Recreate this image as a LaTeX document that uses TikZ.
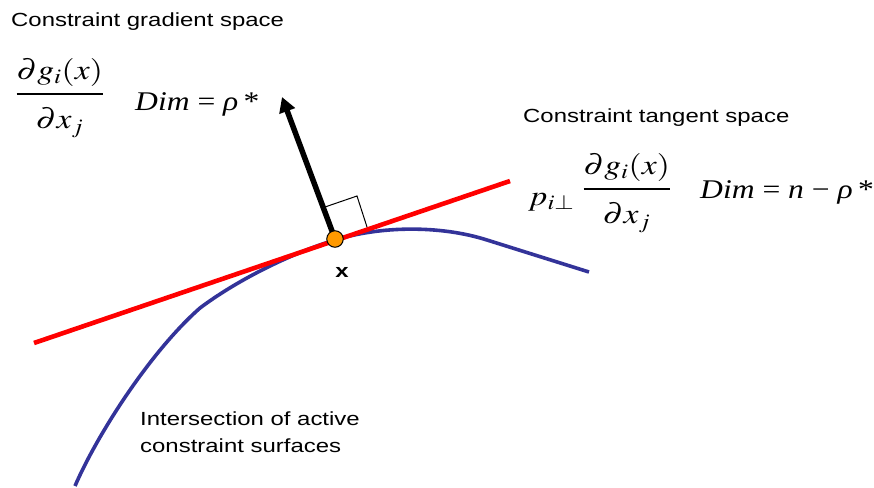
\documentclass[tikz,border=0pt]{standalone}
\usepackage{mathptmx}
\usepackage{fontspec}
\setmainfont{Liberation Sans}
\newfontfamily\tmsfont{Liberation Serif}
\usetikzlibrary{arrows.meta}
\definecolor{curveblue}{RGB}{51,51,153}
\definecolor{dotorange}{RGB}{255,153,0}
\newcommand{\hstretch}[1]{\scalebox{1.26}[1]{#1}}
\newcommand{\mstretch}[1]{\scalebox{1.2}[1]{#1}}
\newcommand{\dstretch}[1]{\scalebox{1.17}[1]{#1}}
\newcommand{\gradfrac}{$\displaystyle\frac{\partial g_i(x)\rule[-11pt]{0pt}{11pt}}{\rule{0pt}{31pt}\partial x_j}$}
\begin{document}
\begin{tikzpicture}[x=1pt,y=-1pt,
  lbl/.style={inner sep=0, anchor=base west, font=\fontsize{19}{22}\selectfont},
  mth/.style={inner sep=0, anchor=base west, font=\fontsize{28}{32}\selectfont},
  dimtxt/.style={inner sep=0, anchor=base west, font=\tmsfont\fontsize{27}{32}\selectfont}]
\useasboundingbox (0,0) rectangle (874,487);
% surfaces
\coordinate (c0) at (75,486);
\coordinate (c1) at (200,308);
\coordinate (c2) at (335,240);
\coordinate (c3) at (487,240);
\coordinate (c4) at (589,272);
\draw[curveblue, line width=3.6pt]
  (c0) .. controls (97,435) and (150,352) .. (c1)
       .. controls (240,278) and (295,252) .. (c2)
       .. controls (380,226) and (440,225) .. (c3)
       -- (c4);
\coordinate (tA) at (34,343);
\coordinate (tB) at (510,181);
\draw[red, line width=4.6pt] (tA) -- (tB);
% right angle mark
\coordinate (s1) at (325,207);
\coordinate (s2) at (357,196);
\coordinate (s3) at (367,227);
\draw[line width=1pt] (s1) -- (s2) -- (s3);
% gradient arrow and point
\coordinate (tip) at (282,97);
\coordinate (base) at (335,239);
\draw[line width=5.5pt, -{Triangle[length=15pt,width=16pt]}] (base) -- (tip);
\node[circle, draw, line width=1pt, fill=dotorange, minimum size=16.5pt, inner sep=0] (X) at (base) {};
\node[inner sep=0, font=\bfseries\fontsize{19}{22}\selectfont] (xl) at (342,272) {\hstretch{x}};
% labels
\node[lbl] (gs) at (11,27) {\hstretch{Constraint gradient space}};
\node[lbl] (ts) at (523,122) {\hstretch{Constraint tangent space}};
\node[lbl] (is1) at (140,425) {\hstretch{Intersection of active}};
\node[lbl] (is2) at (140,452) {\hstretch{constraint surfaces}};
% formulas
\node[mth] (gf) at (15,101) {\mstretch{\gradfrac}};
\node[dimtxt] (gd) at (135,110) {\dstretch{\textit{Dim} = \textit{ρ}\,*}};
\node[mth] (tp) at (528,205) {\mstretch{$p_{i\perp}$}};
\node[mth] (tf) at (582,196) {\mstretch{\gradfrac}};
\node[dimtxt] (td) at (700,198) {\dstretch{\textit{Dim} = \textit{n} − \textit{ρ}\,*}};
\end{tikzpicture}
\end{document}
